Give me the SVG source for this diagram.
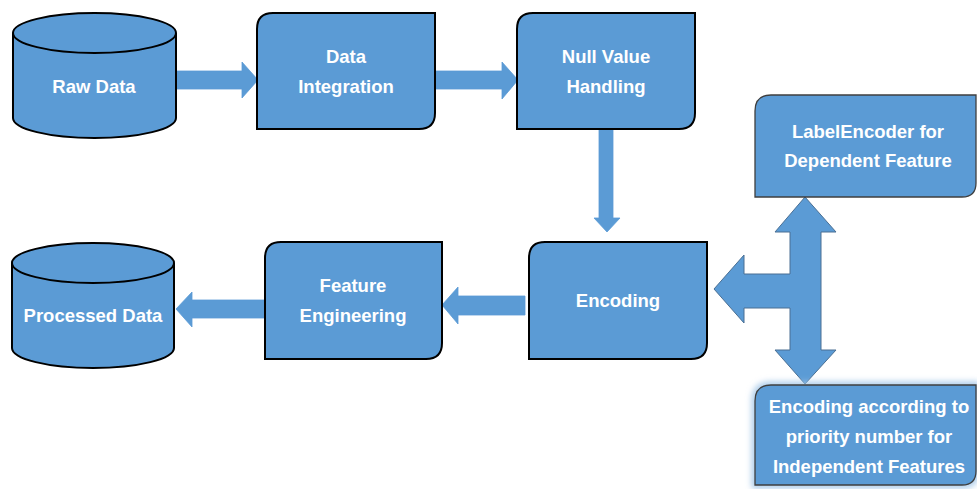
<svg xmlns="http://www.w3.org/2000/svg" width="977" height="489" viewBox="0 0 977 489">
  <defs>
    <style>
      .box { fill: #5b9bd5; stroke: #000; stroke-width: 2; }
      .side { fill: #5b9bd5; stroke: #3f3f3f; stroke-width: 1.3; }
      .cyl { fill: #5b9bd5; stroke: #000; stroke-width: 2; }
      .arrow { fill: #5b9bd5; stroke: #5b9bd5; stroke-width: 0.8; stroke-linejoin: miter; }
      .tee { fill: #5b9bd5; stroke: #4a6f93; stroke-width: 1; stroke-linejoin: miter; }
      .lbl { font-family: "Liberation Sans", Arial, sans-serif; font-weight: bold; font-size: 18.5px; fill: #fff; text-anchor: middle; }
    </style>
    <filter id="glow" x="-20%" y="-20%" width="140%" height="140%">
      <feGaussianBlur stdDeviation="3"/>
    </filter>
  </defs>

  <!-- connectors -->
  <g id="connectors">
    <!-- Raw Data -> Data Integration -->
    <polygon class="arrow" points="176,71 242,71 242,62 258,80 242,98 242,89 176,89"/>
    <!-- Data Integration -> Null Value Handling -->
    <polygon class="arrow" points="435,71 502,71 502,62 518,80 502,99 502,89 435,89"/>
    <!-- Null Value Handling -> Encoding -->
    <polygon class="arrow" points="599,129 613,129 613,218 620,218 607,232 594,218 599,218"/>
    <!-- Encoding -> Feature Engineering -->
    <polygon class="arrow" points="525,296 458,296 458,287 442,305 458,324 458,315 525,315"/>
    <!-- Feature Engineering -> Processed Data -->
    <polygon class="arrow" points="265,300 192,300 192,292 176,309 192,327 192,318 265,318"/>
    <!-- three-way arrow between Encoding and the two encoder boxes -->
    <polygon class="tee" points="805,197 836,232 821,232 821,350 836,350 805,384 775,350 790,350 790,308 744,308 744,323 714,289 744,255 744,274 790,274 790,232 775,232"/>
  </g>

  <!-- Raw Data store -->
  <g id="raw-data">
    <path class="cyl" d="M13,33 A81.5,20 0 0 1 176,33 L176,118 A81.5,20 0 0 1 13,118 Z"/>
    <path class="cyl" fill="none" d="M13,33 A81.5,20 0 0 0 176,33"/>
    <text class="lbl" x="94" y="93">Raw Data</text>
  </g>

  <!-- Data Integration -->
  <g id="data-integration">
    <path class="box" d="M273,13 L435,13 L435,113 Q435,129 419,129 L257,129 L257,29 Q257,13 273,13 Z"/>
    <text class="lbl" x="346" y="63">Data</text>
    <text class="lbl" x="346" y="93">Integration</text>
  </g>

  <!-- Null Value Handling -->
  <g id="null-value-handling">
    <path class="box" d="M533,13 L695,13 L695,113 Q695,129 679,129 L517,129 L517,29 Q517,13 533,13 Z"/>
    <text class="lbl" x="606" y="63">Null Value</text>
    <text class="lbl" x="606" y="93">Handling</text>
  </g>

  <!-- Encoding -->
  <g id="encoding">
    <path class="box" d="M545,242 L707,242 L707,343 Q707,359 691,359 L529,359 L529,258 Q529,242 545,242 Z"/>
    <text class="lbl" x="618" y="307">Encoding</text>
  </g>

  <!-- Feature Engineering -->
  <g id="feature-engineering">
    <path class="box" d="M281,242 L442,242 L442,343 Q442,359 426,359 L265,359 L265,258 Q265,242 281,242 Z"/>
    <text class="lbl" x="353" y="292">Feature</text>
    <text class="lbl" x="353" y="322">Engineering</text>
  </g>

  <!-- Processed Data store -->
  <g id="processed-data">
    <path class="cyl" d="M12,263 A81,20 0 0 1 174,263 L174,348 A81,20 0 0 1 12,348 Z"/>
    <path class="cyl" fill="none" d="M12,263 A81,20 0 0 0 174,263"/>
    <text class="lbl" x="93" y="322">Processed Data</text>
  </g>

  <!-- LabelEncoder for Dependent Feature -->
  <g id="label-encoder">
    <path class="side" d="M771,95 L976,95 L976,183 Q976,197 962,197 L755,197 L755,111 Q755,95 771,95 Z"/>
    <text class="lbl" x="868" y="138">LabelEncoder for</text>
    <text class="lbl" x="868" y="167">Dependent Feature</text>
  </g>

  <!-- Encoding according to priority number -->
  <g id="priority-encoding">
    <path d="M771,385 L976,385 L976,471 Q976,485 962,485 L755,485 L755,401 Q755,385 771,385 Z" fill="none" stroke="#9dc3e6" stroke-width="6" filter="url(#glow)"/>
    <path class="side" d="M771,385 L976,385 L976,471 Q976,485 962,485 L755,485 L755,401 Q755,385 771,385 Z"/>
    <text class="lbl" x="869" y="413">Encoding according to</text>
    <text class="lbl" x="869" y="443">priority number for</text>
    <text class="lbl" x="869" y="473">Independent Features</text>
  </g>
</svg>
